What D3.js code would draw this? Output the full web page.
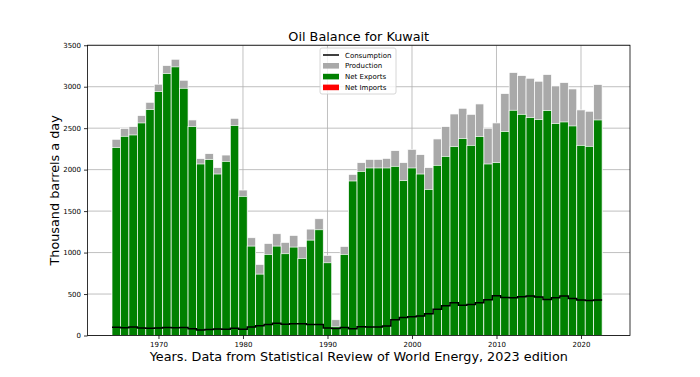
<!DOCTYPE html>
<html>
<head>
<meta charset="utf-8">
<script src="https://cdn.jsdelivr.net/npm/d3@7"></script>
<style>
  html, body { margin: 0; padding: 0; background: #fff; }
  svg { display: block; font-family: "DejaVu Sans", sans-serif; }
</style>
</head>
<body>
<svg id="chart" width="700" height="377"></svg>
<script>
const years = d3.range(1965, 2023);
const production = [2366, 2495, 2519, 2652, 2812, 3030, 3255, 3331, 3078, 2599,
  2133, 2193, 2024, 2176, 2619, 1754, 1179, 857, 1110, 1227,
  1123, 1207, 1071, 1283, 1408, 966, 190, 1074, 1943, 2084,
  2124, 2124, 2136, 2229, 2084, 2245, 2181, 2024, 2370, 2519,
  2671, 2740, 2667, 2792, 2499, 2563, 2917, 3171, 3134, 3102,
  3066, 3147, 3009, 3050, 2973, 2720, 2704, 3026];
const netExports = [2266, 2402, 2418, 2563, 2724, 2941, 3158, 3239, 2981, 2519,
  2068, 2121, 1947, 2100, 2531, 1678, 1078, 740, 978, 1078,
  986, 1066, 929, 1150, 1275, 877, 105, 978, 1863, 1979,
  2020, 2020, 2020, 2040, 1867, 2020, 1947, 1762, 2052, 2160,
  2277, 2374, 2293, 2398, 2068, 2084, 2459, 2716, 2667, 2627,
  2603, 2712, 2555, 2575, 2527, 2293, 2281, 2599];
const consumption = [100, 93, 101, 89, 88, 89, 97, 92, 97, 80,
  65, 72, 77, 76, 88, 76, 101, 117, 132, 149,
  137, 141, 142, 133, 133, 89, 85, 96, 80, 105,
  104, 104, 116, 189, 217, 225, 234, 262, 318, 359,
  394, 366, 374, 394, 431, 479, 458, 455, 467, 475,
  463, 435, 454, 475, 446, 427, 423, 427];
const netImports = years.map(() => 0);
const yTicks = [0, 500, 1000, 1500, 2000, 2500, 3000, 3500];
const xTicks = [1970, 1980, 1990, 2000, 2010, 2020];

const svg = d3.select("#chart");
const L = 87.5, R = 630, T = 45.24, B = 335.5;
const x = d3.scaleLinear().domain([1961.6, 2025.8]).range([L, R]);
const y = d3.scaleLinear().domain([0, 3500]).range([B, T]);

// grid
const grid = svg.append("g");
grid.selectAll("line.gy").data(yTicks).join("line")
  .attr("x1", L).attr("x2", R).attr("y1", d => y(d)).attr("y2", d => y(d))
  .attr("stroke", "#b0b0b0").attr("stroke-width", 0.8);
grid.selectAll("line.gx").data(xTicks).join("line")
  .attr("y1", T).attr("y2", B).attr("x1", d => x(d)).attr("x2", d => x(d))
  .attr("stroke", "#b0b0b0").attr("stroke-width", 0.8);

const bw = x(1) - x(0);
function bars(values, color) {
  svg.append("g").selectAll("rect").data(years).join("rect")
    .attr("x", (d) => x(d - 0.5))
    .attr("width", bw)
    .attr("y", (d, i) => y(Math.max(0, values[i])))
    .attr("height", (d, i) => y(0) - y(Math.max(0, values[i])))
    .attr("fill", color)
    .attr("stroke", "#fff")
    .attr("stroke-width", 0.7);
}
bars(production, "darkgray");
bars(netExports, "green");
bars(netImports, "red");

// consumption stairs
const pts = [];
years.forEach((yr, i) => { pts.push([yr - 0.5, consumption[i]]); pts.push([yr + 0.5, consumption[i]]); });
svg.append("path").datum(pts)
  .attr("d", d3.line().x(d => x(d[0])).y(d => y(d[1])))
  .attr("fill", "none").attr("stroke", "black").attr("stroke-width", 1.5);

// axes
const xAxis = svg.append("g").attr("transform", `translate(0,${B})`)
  .call(d3.axisBottom(x).tickValues(xTicks).tickFormat(d3.format("d")).tickSize(3.5).tickPadding(3));
const yAxis = svg.append("g").attr("transform", `translate(${L},0)`)
  .call(d3.axisLeft(y).tickValues(yTicks).tickFormat(d3.format("d")).tickSize(3.5).tickPadding(3));
[xAxis, yAxis].forEach(a => {
  a.selectAll("text").attr("font-size", 7).attr("font-family", "DejaVu Sans").attr("fill", "#000");
  a.selectAll("line").attr("stroke", "#000").attr("stroke-width", 0.8);
  a.select(".domain").remove();
});
// frame
svg.append("rect").attr("x", L).attr("y", T).attr("width", R - L).attr("height", B - T)
  .attr("fill", "none").attr("stroke", "#000").attr("stroke-width", 0.8);

// title and labels
svg.append("text").attr("x", (L + R) / 2).attr("y", 41).attr("text-anchor", "middle")
  .attr("font-size", 12.8).text("Oil Balance for Kuwait");
svg.append("text").attr("x", (L + R) / 2).attr("y", 361).attr("text-anchor", "middle")
  .attr("font-size", 12.8).text("Years. Data from Statistical Review of World Energy, 2023 edition");
svg.append("text").attr("transform", `translate(59,${(T + B) / 2}) rotate(-90)`).attr("text-anchor", "middle")
  .attr("font-size", 12.8).text("Thousand barrels a day");

// legend
const lg = svg.append("g").attr("transform", "translate(320,48)");
lg.append("rect").attr("x", 0).attr("y", 0).attr("width", 76).attr("height", 46)
  .attr("rx", 2).attr("fill", "#fff").attr("fill-opacity", 0.8).attr("stroke", "#ccc").attr("stroke-width", 0.8);
const items = [
  { name: "Consumption", type: "line", color: "black" },
  { name: "Production", type: "box", color: "darkgray" },
  { name: "Net Exports", type: "box", color: "green" },
  { name: "Net Imports", type: "box", color: "red" }
];
items.forEach((it, i) => {
  const cy = 7 + i * 10.8;
  if (it.type === "line") {
    lg.append("line").attr("x1", 3).attr("x2", 19).attr("y1", cy).attr("y2", cy)
      .attr("stroke", it.color).attr("stroke-width", 1.5);
  } else {
    lg.append("rect").attr("x", 3).attr("y", cy - 2.8).attr("width", 16).attr("height", 5.6).attr("fill", it.color);
  }
  lg.append("text").attr("x", 25).attr("y", cy + 2.5).attr("font-size", 7).text(it.name);
});
</script>
</body>
</html>
